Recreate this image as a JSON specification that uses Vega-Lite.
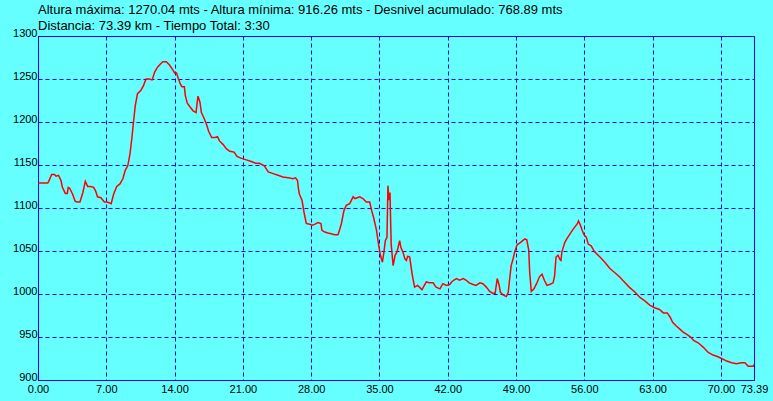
{
  "$schema": "https://vega.github.io/schema/vega-lite/v6.json",
  "width": 716,
  "height": 344,
  "autosize": {"type": "none"},
  "padding": {"left": 38, "top": 36, "right": 19, "bottom": 21},
  "background": "#66ffff",
  "title": {
    "text": ["Altura máxima: 1270.04 mts - Altura mínima: 916.26 mts - Desnivel acumulado: 768.89 mts", "Distancia: 73.39 km - Tiempo Total: 3:30"],
    "anchor": "start",
    "frame": "group",
    "font": "Liberation Sans",
    "fontSize": 13,
    "fontWeight": "normal",
    "color": "#000000",
    "lineHeight": 16,
    "offset": 4,
    "dy": 10
  },
  "config": {
    "view": {"stroke": "#0000ff", "strokeWidth": 1, "fill": "#66ffff"},
    "axis": {
      "labelFont": "Liberation Sans",
      "labelFontSize": 11,
      "labelColor": "#000000",
      "domainColor": "#0000ff",
      "domainWidth": 1,
      "gridColor": "#0000ff",
      "gridDash": [4, 3],
      "gridOpacity": 1,
      "gridWidth": 1,
      "ticks": false,
      "title": null
    }
  },
  "data": {
    "values": [
      {"km": 0, "alt": 1129}, {"km": 1.0, "alt": 1129}, {"km": 1.1, "alt": 1131}, {"km": 1.4, "alt": 1139},
      {"km": 1.7, "alt": 1139}, {"km": 1.85, "alt": 1137}, {"km": 2.1, "alt": 1138}, {"km": 2.36, "alt": 1132},
      {"km": 2.5, "alt": 1124}, {"km": 2.8, "alt": 1117}, {"km": 3.0, "alt": 1117}, {"km": 3.1, "alt": 1124},
      {"km": 3.25, "alt": 1123}, {"km": 3.55, "alt": 1116}, {"km": 3.8, "alt": 1108}, {"km": 4.0, "alt": 1107},
      {"km": 4.3, "alt": 1107}, {"km": 4.6, "alt": 1118}, {"km": 4.85, "alt": 1131}, {"km": 5.1, "alt": 1125},
      {"km": 5.4, "alt": 1125}, {"km": 5.7, "alt": 1124}, {"km": 5.9, "alt": 1120}, {"km": 6.1, "alt": 1113},
      {"km": 6.45, "alt": 1112}, {"km": 6.8, "alt": 1107}, {"km": 7.1, "alt": 1107}, {"km": 7.5, "alt": 1105},
      {"km": 7.75, "alt": 1116}, {"km": 8.07, "alt": 1125}, {"km": 8.4, "alt": 1128}, {"km": 8.7, "alt": 1134},
      {"km": 8.95, "alt": 1144}, {"km": 9.2, "alt": 1149}, {"km": 9.43, "alt": 1163}, {"km": 9.63, "alt": 1182},
      {"km": 9.77, "alt": 1198}, {"km": 9.97, "alt": 1219}, {"km": 10.2, "alt": 1233}, {"km": 10.55, "alt": 1237},
      {"km": 10.8, "alt": 1242}, {"km": 11.07, "alt": 1250}, {"km": 11.4, "alt": 1250}, {"km": 11.7, "alt": 1249},
      {"km": 11.96, "alt": 1258}, {"km": 12.27, "alt": 1264}, {"km": 12.6, "alt": 1268}, {"km": 12.8, "alt": 1270},
      {"km": 13.15, "alt": 1270}, {"km": 13.5, "alt": 1266}, {"km": 13.85, "alt": 1260}, {"km": 14.0, "alt": 1257},
      {"km": 14.2, "alt": 1257}, {"km": 14.4, "alt": 1250}, {"km": 14.6, "alt": 1244}, {"km": 14.76, "alt": 1241},
      {"km": 15.0, "alt": 1241}, {"km": 15.1, "alt": 1231}, {"km": 15.3, "alt": 1222}, {"km": 15.55, "alt": 1218},
      {"km": 15.9, "alt": 1213}, {"km": 16.2, "alt": 1211}, {"km": 16.3, "alt": 1221}, {"km": 16.4, "alt": 1230},
      {"km": 16.6, "alt": 1223}, {"km": 16.75, "alt": 1211}, {"km": 17.0, "alt": 1205}, {"km": 17.25, "alt": 1198},
      {"km": 17.5, "alt": 1189}, {"km": 17.8, "alt": 1182}, {"km": 18.17, "alt": 1182}, {"km": 18.4, "alt": 1183},
      {"km": 18.6, "alt": 1178}, {"km": 18.96, "alt": 1174}, {"km": 19.3, "alt": 1169}, {"km": 19.65, "alt": 1166},
      {"km": 20.1, "alt": 1165}, {"km": 20.4, "alt": 1160}, {"km": 20.8, "alt": 1158}, {"km": 21.35, "alt": 1156},
      {"km": 21.86, "alt": 1154}, {"km": 22.3, "alt": 1152}, {"km": 22.7, "alt": 1152}, {"km": 23.2, "alt": 1149},
      {"km": 23.6, "alt": 1142}, {"km": 24.1, "alt": 1140}, {"km": 24.6, "alt": 1138}, {"km": 25.1, "alt": 1136},
      {"km": 25.8, "alt": 1135}, {"km": 26.1, "alt": 1134}, {"km": 26.4, "alt": 1135}, {"km": 26.6, "alt": 1132},
      {"km": 26.7, "alt": 1122}, {"km": 26.8, "alt": 1116}, {"km": 27.06, "alt": 1109}, {"km": 27.3, "alt": 1093},
      {"km": 27.5, "alt": 1082}, {"km": 27.85, "alt": 1081}, {"km": 28.1, "alt": 1080}, {"km": 28.35, "alt": 1081},
      {"km": 28.7, "alt": 1083}, {"km": 29.0, "alt": 1082}, {"km": 29.1, "alt": 1074}, {"km": 29.4, "alt": 1072},
      {"km": 29.7, "alt": 1071}, {"km": 30.06, "alt": 1070}, {"km": 30.4, "alt": 1069}, {"km": 30.75, "alt": 1069},
      {"km": 30.9, "alt": 1074}, {"km": 31.1, "alt": 1082}, {"km": 31.36, "alt": 1097}, {"km": 31.6, "alt": 1103},
      {"km": 31.95, "alt": 1105}, {"km": 32.3, "alt": 1113}, {"km": 32.5, "alt": 1111}, {"km": 32.97, "alt": 1113},
      {"km": 33.3, "alt": 1111}, {"km": 33.65, "alt": 1107}, {"km": 34.0, "alt": 1107}, {"km": 34.2, "alt": 1097},
      {"km": 34.4, "alt": 1089}, {"km": 34.7, "alt": 1074}, {"km": 34.9, "alt": 1058}, {"km": 35.1, "alt": 1045},
      {"km": 35.3, "alt": 1037}, {"km": 35.46, "alt": 1049}, {"km": 35.6, "alt": 1062}, {"km": 35.77, "alt": 1066},
      {"km": 35.87, "alt": 1126}, {"km": 35.97, "alt": 1109}, {"km": 36.08, "alt": 1118}, {"km": 36.2, "alt": 1058},
      {"km": 36.4, "alt": 1033}, {"km": 36.6, "alt": 1045}, {"km": 36.8, "alt": 1049}, {"km": 37.07, "alt": 1062},
      {"km": 37.2, "alt": 1054}, {"km": 37.4, "alt": 1049}, {"km": 37.6, "alt": 1041}, {"km": 37.75, "alt": 1039},
      {"km": 37.9, "alt": 1044}, {"km": 38.1, "alt": 1043}, {"km": 38.3, "alt": 1027}, {"km": 38.4, "alt": 1020},
      {"km": 38.6, "alt": 1008}, {"km": 38.9, "alt": 1010}, {"km": 39.1, "alt": 1008}, {"km": 39.36, "alt": 1005},
      {"km": 39.6, "alt": 1010}, {"km": 39.8, "alt": 1014}, {"km": 40.1, "alt": 1013}, {"km": 40.5, "alt": 1013},
      {"km": 40.8, "alt": 1008}, {"km": 41.2, "alt": 1006}, {"km": 41.5, "alt": 1012}, {"km": 41.85, "alt": 1010},
      {"km": 42.2, "alt": 1011}, {"km": 42.4, "alt": 1014}, {"km": 42.6, "alt": 1016}, {"km": 42.9, "alt": 1018},
      {"km": 43.2, "alt": 1016}, {"km": 43.6, "alt": 1018}, {"km": 43.9, "alt": 1016}, {"km": 44.2, "alt": 1013},
      {"km": 44.6, "alt": 1011}, {"km": 44.9, "alt": 1010}, {"km": 45.3, "alt": 1013}, {"km": 45.6, "alt": 1012},
      {"km": 45.95, "alt": 1008}, {"km": 46.3, "alt": 1003}, {"km": 46.6, "alt": 1001}, {"km": 46.86, "alt": 1001},
      {"km": 47.07, "alt": 1018}, {"km": 47.25, "alt": 1011}, {"km": 47.4, "alt": 1002}, {"km": 47.66, "alt": 999},
      {"km": 48.0, "alt": 997}, {"km": 48.2, "alt": 1002}, {"km": 48.35, "alt": 1018}, {"km": 48.5, "alt": 1033},
      {"km": 48.7, "alt": 1041}, {"km": 48.86, "alt": 1049}, {"km": 49.1, "alt": 1057}, {"km": 49.47, "alt": 1060},
      {"km": 49.9, "alt": 1064}, {"km": 50.1, "alt": 1063}, {"km": 50.3, "alt": 1051}, {"km": 50.4, "alt": 1025},
      {"km": 50.56, "alt": 1003}, {"km": 50.84, "alt": 1006}, {"km": 51.1, "alt": 1012}, {"km": 51.4, "alt": 1020},
      {"km": 51.66, "alt": 1023}, {"km": 51.9, "alt": 1016}, {"km": 52.17, "alt": 1010}, {"km": 52.44, "alt": 1011},
      {"km": 52.8, "alt": 1013}, {"km": 52.95, "alt": 1021}, {"km": 53.1, "alt": 1043}, {"km": 53.3, "alt": 1045},
      {"km": 53.5, "alt": 1040}, {"km": 53.6, "alt": 1039}, {"km": 53.7, "alt": 1049}, {"km": 54.0, "alt": 1060},
      {"km": 54.25, "alt": 1065}, {"km": 54.65, "alt": 1072}, {"km": 54.9, "alt": 1076}, {"km": 55.3, "alt": 1082},
      {"km": 55.4, "alt": 1085}, {"km": 55.6, "alt": 1080}, {"km": 55.75, "alt": 1075}, {"km": 55.96, "alt": 1069},
      {"km": 56.2, "alt": 1066}, {"km": 56.4, "alt": 1058}, {"km": 56.7, "alt": 1056}, {"km": 57.05, "alt": 1049},
      {"km": 57.6, "alt": 1043}, {"km": 58.1, "alt": 1037}, {"km": 58.6, "alt": 1030}, {"km": 59.1, "alt": 1025},
      {"km": 59.6, "alt": 1020}, {"km": 60.1, "alt": 1014}, {"km": 60.6, "alt": 1008}, {"km": 61.2, "alt": 1002},
      {"km": 61.7, "alt": 996}, {"km": 62.2, "alt": 992}, {"km": 62.7, "alt": 987}, {"km": 63.2, "alt": 984},
      {"km": 63.7, "alt": 982}, {"km": 64.1, "alt": 978}, {"km": 64.5, "alt": 978}, {"km": 64.8, "alt": 973},
      {"km": 65.05, "alt": 967}, {"km": 65.4, "alt": 963}, {"km": 65.7, "alt": 960}, {"km": 66.1, "alt": 956},
      {"km": 66.5, "alt": 953}, {"km": 66.9, "alt": 950}, {"km": 67.2, "alt": 946}, {"km": 67.7, "alt": 943},
      {"km": 68.2, "alt": 938}, {"km": 68.7, "alt": 932}, {"km": 69.2, "alt": 929}, {"km": 69.7, "alt": 927},
      {"km": 70.07, "alt": 925}, {"km": 70.6, "alt": 922}, {"km": 71.1, "alt": 920}, {"km": 71.6, "alt": 919},
      {"km": 72.1, "alt": 920}, {"km": 72.46, "alt": 920}, {"km": 72.8, "alt": 916}, {"km": 73.3, "alt": 916},
      {"km": 73.39, "alt": 918}
    ]
  },
  "mark": {"type": "line", "color": "#ff0000", "strokeWidth": 1.5, "interpolate": "linear"},
  "encoding": {
    "x": {
      "field": "km",
      "type": "quantitative",
      "scale": {"domain": [0, 73.39], "nice": false, "zero": false},
      "axis": {
        "values": [0, 7, 14, 21, 28, 35, 42, 49, 56, 63, 70, 73.39],
        "format": ".2f",
        "labelPadding": 3,
        "labelFlush": false,
        "labelOverlap": false,
        "grid": true
      }
    },
    "y": {
      "field": "alt",
      "type": "quantitative",
      "scale": {"domain": [900, 1300], "nice": false, "zero": false},
      "axis": {
        "values": [900, 950, 1000, 1050, 1100, 1150, 1200, 1250, 1300],
        "format": "d",
        "labelBaseline": "alphabetic",
        "labelPadding": 1,
        "labelFlush": false,
        "labelOverlap": false,
        "grid": true
      }
    }
  }
}
